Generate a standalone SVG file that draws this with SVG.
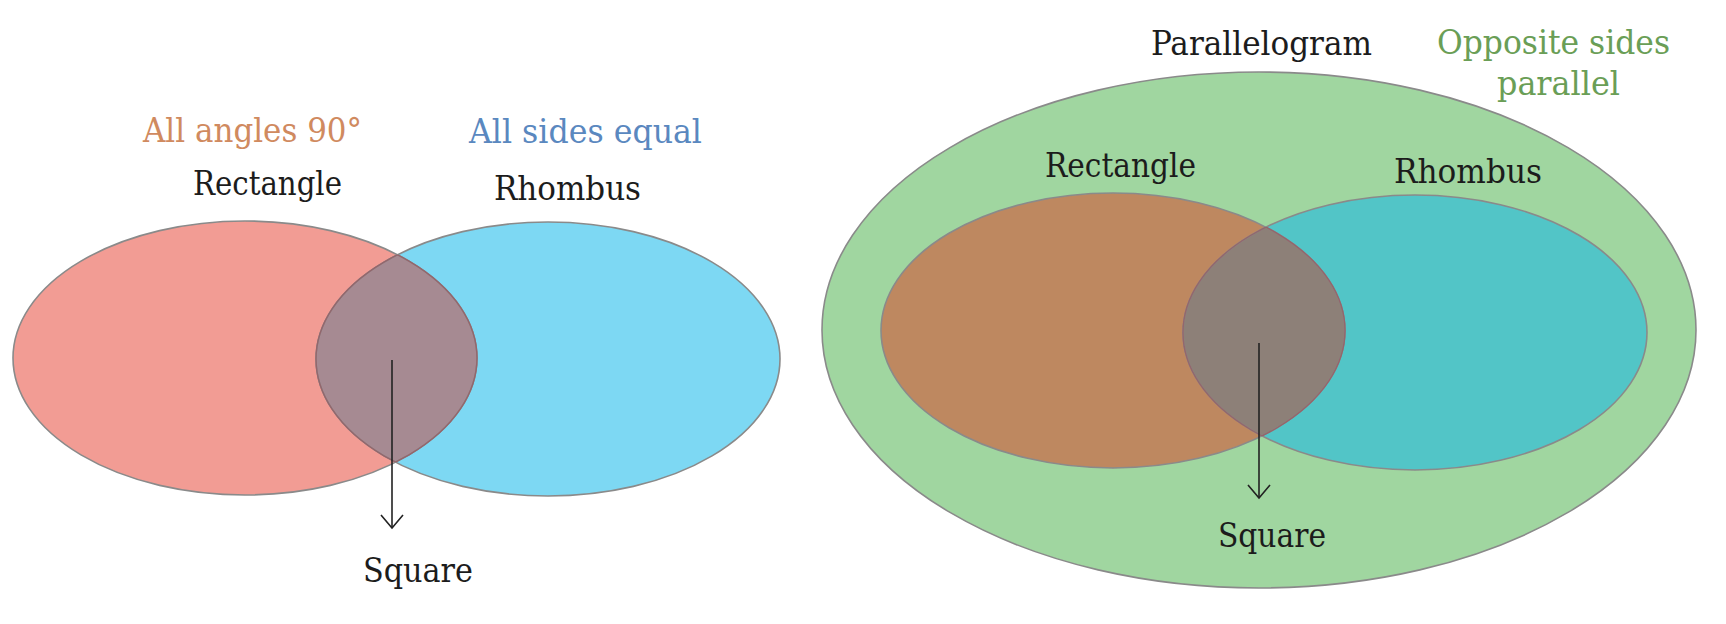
<svg xmlns="http://www.w3.org/2000/svg" width="1726" height="624" viewBox="0 0 1726 624">
  <style>
    .lbl { font-family: 'DejaVu Serif Condensed', 'DejaVu Serif', 'Liberation Serif', serif; font-stretch: condensed; font-size: 34px; fill: #1c1c1c; }
    .orange { fill: #D08A5F; }
    .blue { fill: #5A88BF; }
    .green { fill: #6A9E56; }
    .edge { fill: none; stroke: #8a8a8a; stroke-width: 1.6; }
    .lensedge { fill: none; stroke: #94666c; stroke-width: 1.4; }
    .conn { stroke: #222; stroke-width: 1.6; fill: none; }
  </style>
  <defs>
    <marker id="chev" viewBox="-15 -13 17 26" markerWidth="17" markerHeight="26" refX="0" refY="0" orient="auto" markerUnits="userSpaceOnUse">
      <path d="M -13 -11 L 0 0 L -13 11" fill="none" stroke="#222" stroke-width="1.6"/>
    </marker>
    <clipPath id="clipRedL"><ellipse cx="245" cy="358" rx="232" ry="137"/></clipPath>
    <clipPath id="clipBlueL"><ellipse cx="548" cy="359" rx="232" ry="137"/></clipPath>
    <clipPath id="clipOrR"><ellipse cx="1113" cy="330.5" rx="232" ry="137.5"/></clipPath>
    <clipPath id="clipTeR"><ellipse cx="1415" cy="332.5" rx="232" ry="137.5"/></clipPath>
  </defs>
  <rect width="1726" height="624" fill="#ffffff"/>

  <!-- Left Venn diagram -->
  <g id="left-rectangle">
    <ellipse cx="245" cy="358" rx="232" ry="137" fill="#F29C94"/>
    <text class="lbl orange" x="143" y="142" textLength="219" lengthAdjust="spacingAndGlyphs">All angles 90°</text>
    <text class="lbl" x="193" y="195" textLength="149" lengthAdjust="spacingAndGlyphs">Rectangle</text>
  </g>
  <g id="left-rhombus">
    <ellipse cx="548" cy="359" rx="232" ry="137" fill="#7DD8F3"/>
    <text class="lbl blue" x="469" y="143" textLength="233" lengthAdjust="spacingAndGlyphs">All sides equal</text>
    <text class="lbl" x="494" y="200" textLength="147" lengthAdjust="spacingAndGlyphs">Rhombus</text>
  </g>
  <g id="left-square">
    <ellipse cx="548" cy="359" rx="232" ry="137" fill="#A68A92" clip-path="url(#clipRedL)"/>
    <ellipse class="edge" cx="245" cy="358" rx="232" ry="137"/>
    <ellipse class="edge" cx="548" cy="359" rx="232" ry="137"/>
    <ellipse class="lensedge" cx="245" cy="358" rx="232" ry="137" clip-path="url(#clipBlueL)"/>
    <ellipse class="lensedge" cx="548" cy="359" rx="232" ry="137" clip-path="url(#clipRedL)"/>
    <text class="lbl" x="363" y="582" textLength="110" lengthAdjust="spacingAndGlyphs">Square</text>
  </g>

  <!-- Right Venn diagram -->
  <g id="right-parallelogram">
    <ellipse cx="1259" cy="330" rx="437" ry="258" fill="#A0D6A0" stroke="#8a8a8a" stroke-width="1.6"/>
    <text class="lbl" x="1151" y="55" textLength="221" lengthAdjust="spacingAndGlyphs">Parallelogram</text>
    <text class="lbl green" x="1437" y="54" textLength="233" lengthAdjust="spacingAndGlyphs">Opposite sides</text>
    <text class="lbl green" x="1497" y="95" textLength="123" lengthAdjust="spacingAndGlyphs">parallel</text>
  </g>
  <g id="right-rectangle">
    <ellipse cx="1113" cy="330.5" rx="232" ry="137.5" fill="#BE8860"/>
    <text class="lbl" x="1045" y="177" textLength="151" lengthAdjust="spacingAndGlyphs">Rectangle</text>
  </g>
  <g id="right-rhombus">
    <ellipse cx="1415" cy="332.5" rx="232" ry="137.5" fill="#52C5C7"/>
    <text class="lbl" x="1394" y="183" textLength="148" lengthAdjust="spacingAndGlyphs">Rhombus</text>
  </g>
  <g id="right-square">
    <ellipse cx="1415" cy="332.5" rx="232" ry="137.5" fill="#8D8078" clip-path="url(#clipOrR)"/>
    <ellipse class="edge" cx="1113" cy="330.5" rx="232" ry="137.5"/>
    <ellipse class="edge" cx="1415" cy="332.5" rx="232" ry="137.5"/>
    <ellipse class="lensedge" cx="1113" cy="330.5" rx="232" ry="137.5" clip-path="url(#clipTeR)"/>
    <ellipse class="lensedge" cx="1415" cy="332.5" rx="232" ry="137.5" clip-path="url(#clipOrR)"/>
    <text class="lbl" x="1218" y="547" textLength="108" lengthAdjust="spacingAndGlyphs">Square</text>
  </g>

  <!-- Connectors -->
  <g id="connectors">
    <line class="conn" x1="392" y1="360" x2="392" y2="528" marker-end="url(#chev)"/>
    <line class="conn" x1="1259" y1="343" x2="1259" y2="498" marker-end="url(#chev)"/>
  </g>
</svg>
